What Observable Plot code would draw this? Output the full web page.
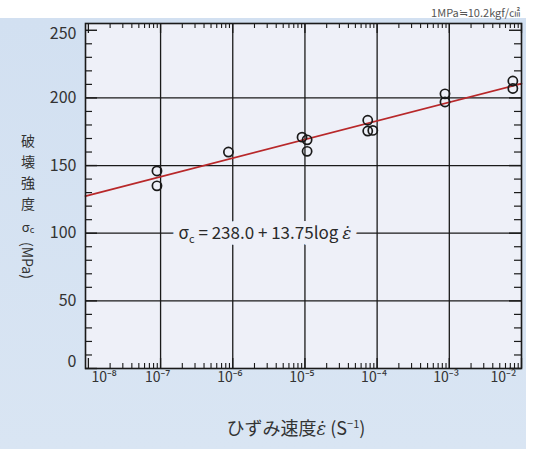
<!DOCTYPE html>
<html><head><meta charset="utf-8">
<script src="https://cdn.jsdelivr.net/npm/d3@7"></script>
<script src="https://cdn.jsdelivr.net/npm/@observablehq/plot@0.6"></script>
<style>
html,body{margin:0;padding:0;background:#fff;}
#fig{position:relative;width:537px;height:449px;overflow:hidden;font-family:"Noto Sans CJK JP","Noto Sans",sans-serif;color:#333;}
#panel{position:absolute;left:0;top:18px;width:526px;height:431px;background:linear-gradient(180deg,#d2e0f1 0%,#d9e5f3 100%);}
#chart{position:absolute;left:0;top:0;}
#note{position:absolute;right:17px;top:4px;font-size:11px;color:#555;white-space:nowrap;}
#ylabel{position:absolute;left:21px;top:134px;writing-mode:vertical-rl;font-size:14px;line-height:14px;letter-spacing:7px;color:#333;white-space:nowrap;}
#ylabel .h{writing-mode:horizontal-tb;display:inline-block;font-size:13px;letter-spacing:0;line-height:13px;margin:2px 0 6px 0;}
#ylabel .h sub{font-size:9px;vertical-align:-1px;}
#ylabel .m{letter-spacing:0;font-size:14px;}
#xlabel{position:absolute;left:0;width:592px;top:414px;text-align:center;font-size:18px;color:#333;white-space:nowrap;}
#xlabel i{font-family:"DejaVu Serif",serif;}
#xlabel sup{font-size:11px;}
</style></head><body>
<div id="fig">
  <div id="panel"></div>
  <div id="chart"></div>
  <div id="note">1MPa≒10.2kgf/㎠</div>
  <div id="ylabel">破壊強度<span class="h">σ<sub>c</sub></span><span class="m">(MPa)</span></div>
  <div id="xlabel">ひずみ速度<i>ε̇</i> (S<sup>−1</sup>)</div>
</div>
<script>
// ---- data ----
const rateExponent = [-7.05, -7.05, -6.06, -5.04, -4.97, -4.97, -4.13, -4.13, -4.06, -3.06, -3.06, -2.12, -2.12];
const strengthMPa  = [146,   135,   160,   171,   169,   160.5, 183.5, 175.5, 176,   203,   197,   212.5, 207];
const fitIntercept = 238.0;   // σc = 238.0 + 13.75 log ε̇
const fitSlope = 13.75;
const equationText = "σc = 238.0 + 13.75log ε̇";

// axis ticks
const decadeExponents = [-8, -7, -6, -5, -4, -3, -2];
const xEndExponents = [-8.04, -2];
const yTickValues = [50, 100, 150, 200];
const yGridValues = [50, 100, 150, 200];
const yMinorValues = [10, 20, 30, 40, 60, 70, 80, 90, 110, 120, 130, 140, 160, 170, 180, 190, 210, 220, 230, 240];
const yMajorValues = [0, 50, 100, 150, 200, 250];

// ---- derived tables ----
const points = rateExponent.map((e, i) => ({rate: 10 ** e, strength: strengthMPa[i]}));
const majorRates = decadeExponents.map(e => 10 ** e);
const minorRates = decadeExponents.slice(0, -1).flatMap(e => [2,3,4,5,6,7,8,9].map(k => k * 10 ** e));
const gridRates = majorRates.slice(1, -1);
const fitLine = xEndExponents.map(e => ({rate: 10 ** e, strength: fitIntercept + fitSlope * e}));

const sup = {"-": "⁻", "0":"⁰","1":"¹","2":"²","3":"³","4":"⁴","5":"⁵","6":"⁶","7":"⁷","8":"⁸","9":"⁹"};
const fmt = d => "10" + String(Math.round(Math.log10(d))).split("").map(c => sup[c]).join("");

const W = 537, Hh = 449, mL = 85, mR = 16, mT = 23, mB = 81;
const IW = W - mL - mR, IH = Hh - mT - mB;
const ink = "#1a1a1a";
const plotBg = "#eef0f8";
const eqOpts = {x: 10 ** -6.75, y: 100, text: d => d, textAnchor: "start", fontSize: 17};

const chart = Plot.plot({
  width: W, height: Hh,
  marginLeft: mL, marginRight: mR, marginTop: mT, marginBottom: mB,
  x: {type: "log", domain: [10 ** xEndExponents[0], 10 ** xEndExponents[1]]},
  y: {domain: [0, 255]},
  style: {background: "transparent", fontFamily: "'Noto Sans CJK JP','Noto Sans',sans-serif", overflow: "visible"},
  marks: [
    Plot.frame({fill: plotBg, stroke: null}),
    Plot.ruleY(yGridValues, {stroke: ink, strokeWidth: 1.3}),
    Plot.ruleX(gridRates, {stroke: ink, strokeWidth: 1.3}),
    // bottom / top log ticks (inward)
    Plot.tickX(minorRates, {x: d => d, insetTop: IH - 5, stroke: ink, strokeWidth: 1.1}),
    Plot.tickX(majorRates, {x: d => d, insetTop: IH - 10, stroke: ink, strokeWidth: 1.3}),
    Plot.tickX(minorRates, {x: d => d, insetBottom: IH - 5, stroke: ink, strokeWidth: 1.1}),
    Plot.tickX(majorRates, {x: d => d, insetBottom: IH - 10, stroke: ink, strokeWidth: 1.3}),
    // left / right linear ticks (inward)
    Plot.tickY(yMinorValues, {y: d => d, insetRight: IW - 7, stroke: ink, strokeWidth: 1.2}),
    Plot.tickY(yMajorValues, {y: d => d, insetRight: IW - 12, stroke: ink, strokeWidth: 1.4}),
    Plot.tickY(yMinorValues, {y: d => d, insetLeft: IW - 7, stroke: ink, strokeWidth: 1.2}),
    Plot.tickY(yMajorValues, {y: d => d, insetLeft: IW - 12, stroke: ink, strokeWidth: 1.4}),
    Plot.line(fitLine, {x: "rate", y: "strength", stroke: "#b8282a", strokeWidth: 1.8}),
    // halo behind the equation, then the equation itself
    Plot.text([equationText], {...eqOpts, fill: plotBg, stroke: plotBg, strokeWidth: 12}),
    Plot.text([equationText], {...eqOpts, fill: "#2a2a2a"}),
    Plot.dot(points, {x: "rate", y: "strength", r: 4.6, stroke: ink, strokeWidth: 1.7, fill: "none"}),
    Plot.frame({stroke: ink, strokeWidth: 1.6}),
    Plot.axisY([0], {tickSize: 0, tickPadding: 9, fontSize: 16, fill: "#333", label: null, dy: -7}),
    Plot.axisY(yTickValues, {tickSize: 0, tickPadding: 9, fontSize: 16, fill: "#333", label: null}),
    Plot.axisY([250], {tickSize: 0, tickPadding: 9, fontSize: 16, fill: "#333", label: null, dy: 4}),
    Plot.axisX([majorRates[0]], {tickSize: 0, tickPadding: 4, fontSize: 14, fill: "#333", label: null, tickFormat: fmt, textAnchor: "start", dx: 3}),
    Plot.axisX(gridRates, {tickSize: 0, tickPadding: 4, fontSize: 14, fill: "#333", label: null, tickFormat: fmt, dx: -3}),
    Plot.axisX([majorRates[6]], {tickSize: 0, tickPadding: 4, fontSize: 14, fill: "#333", label: null, tickFormat: fmt, textAnchor: "end", dx: -5})
  ]
});
document.getElementById("chart").appendChild(chart);

// subscript c in the equation (both halo copy and visible copy)
const ns = "http://www.w3.org/2000/svg";
for (const eq of Array.from(chart.querySelectorAll("text")).filter(t => t.textContent === equationText)) {
  eq.textContent = "";
  const parts = [["σ", {}], ["c", {"font-size": "11", "dy": "4"}], [" = 238.0 + 13.75log ", {"dy": "-4"}],
                 ["ε̇", {"font-style": "italic", "font-family": "DejaVu Serif"}]];
  for (const [t, attrs] of parts) {
    const s = document.createElementNS(ns, "tspan");
    s.textContent = t;
    for (const k in attrs) s.setAttribute(k, attrs[k]);
    eq.appendChild(s);
  }
}
</script>
</body></html>
